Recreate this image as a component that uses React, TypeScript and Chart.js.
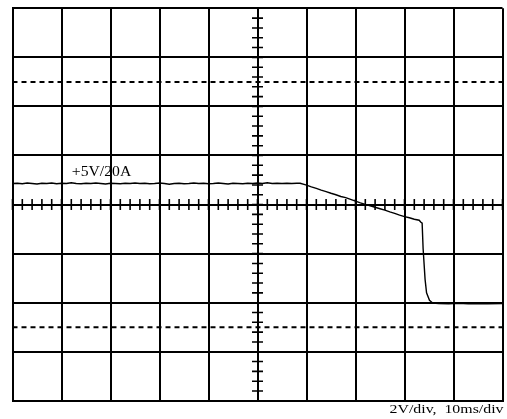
import { useEffect, useRef } from "react";
import { Chart, registerables } from "chart.js";

Chart.register(...registerables);

// time (ms) of each trace sample
const times = [
  -50, -49, -48, -47, -46, -45, -44, -43, -42, -41, -40, -39, -38, -37, -36, -35, -34, -33, -32, -31,
  -30, -29, -28, -27, -26, -25, -24, -23, -22, -21, -20, -19, -18, -17, -16, -15, -14, -13, -12, -11,
  -10, -9, -8, -7, -6, -5, -4, -3, -2, -1, 0, 1, 2, 3, 4, 5, 6, 7, 8, 8.7,
  9.5, 10, 11, 12, 13, 14, 15, 16, 17, 18, 19, 20, 21, 22, 23, 24, 25, 26, 27, 28, 29, 30, 31, 32, 33,
  33.3, 33.6, 33.8, 34.2, 34.5, 35.1, 35.8, 37, 39, 41, 43, 45, 47, 50,
];
// voltage (V) of each trace sample
const volts = [
  0.86, 0.87, 0.85, 0.88, 0.86, 0.84, 0.87, 0.86, 0.88, 0.85, 0.87, 0.86, 0.89, 0.86, 0.85, 0.87, 0.86, 0.88, 0.86, 0.84,
  0.87, 0.86, 0.85, 0.87, 0.86, 0.88, 0.86, 0.87, 0.85, 0.86, 0.88, 0.86, 0.83, 0.86, 0.87, 0.85, 0.86, 0.88, 0.86, 0.87,
  0.85, 0.86, 0.88, 0.86, 0.84, 0.87, 0.86, 0.85, 0.87, 0.86, 0.88, 0.86, 0.89, 0.86, 0.87, 0.86, 0.87, 0.86, 0.87, 0.87,
  0.82, 0.79, 0.72, 0.66, 0.59, 0.53, 0.46, 0.40, 0.33, 0.28, 0.21, 0.14, 0.07, 0.01, -0.05, -0.11, -0.17, -0.23, -0.30, -0.36, -0.43, -0.49, -0.54, -0.60, -0.64,
  -0.71, -0.76, -1.8, -3.05, -3.6, -3.9, -4.02, -4.04, -4.05, -4.03, -4.05, -4.04, -4.05, -4.04,
];
const dashedLevels = [5, -5];
const xRange = [-50, 50];
const yRange = [-8, 8];
const xStep = 10;
const yStep = 2;
const minorPerDiv = 5;
const traceLabel = "+5V/20A";
const traceLabelAt = [-37.9, 1.16];
const scaleCaption = "2V/div,  10ms/div";

const SERIF = "'Liberation Serif', 'Times New Roman', 'DejaVu Serif', serif";

function drawStretched(ctx: CanvasRenderingContext2D, text: string, x: number, y: number, width: number, align: "left" | "right") {
  const w = ctx.measureText(text).width;
  const s = width / w;
  ctx.save();
  ctx.translate(x, y);
  ctx.scale(s, 1);
  ctx.textAlign = align;
  ctx.textBaseline = "alphabetic";
  ctx.fillText(text, 0, 0);
  ctx.restore();
}

const scopePlugin = {
  id: "scope",
  afterDatasetsDraw(chart: any) {
    const { ctx, chartArea } = chart;
    const x = chart.scales.x;
    const y = chart.scales.y;
    const x0 = x.getPixelForValue(0);
    const y0 = y.getPixelForValue(0);
    ctx.save();
    ctx.strokeStyle = "#000";
    ctx.lineWidth = 1.6;
    ctx.beginPath();
    const xm = xStep / minorPerDiv;
    for (let v = xRange[0]; v <= xRange[1] + 1e-9; v += xm) {
      const px = x.getPixelForValue(v);
      ctx.moveTo(px, y0 - 5.5);
      ctx.lineTo(px, y0 + 5.5);
    }
    const ym = yStep / minorPerDiv;
    for (let v = yRange[0]; v <= yRange[1] + 1e-9; v += ym) {
      const py = y.getPixelForValue(v);
      ctx.moveTo(x0 - 5.5, py);
      ctx.lineTo(x0 + 5.5, py);
    }
    ctx.stroke();
    ctx.fillStyle = "#000";
    ctx.font = "14px " + SERIF;
    drawStretched(ctx, traceLabel, x.getPixelForValue(traceLabelAt[0]), y.getPixelForValue(traceLabelAt[1]), 59.5, "left");
    ctx.font = "13px " + SERIF;
    drawStretched(ctx, scaleCaption, chartArea.right + 1, chartArea.bottom + 11.7, 114, "right");
    ctx.restore();
  },
};

export default function App() {
  const ref = useRef<HTMLCanvasElement | null>(null);
  useEffect(() => {
    if (!ref.current) return;
    const chart = new Chart(ref.current, {
      type: "scatter",
      data: {
        datasets: [
          ...dashedLevels.map((lv) => ({
            data: [
              { x: xRange[0], y: lv },
              { x: xRange[1], y: lv },
            ],
            showLine: true,
            borderColor: "#000",
            borderWidth: 2,
            borderDash: [5, 4],
            pointRadius: 0,
          })),
          {
            data: times.map((t, i) => ({ x: t, y: volts[i] })),
            showLine: true,
            borderColor: "#000",
            borderWidth: 1.4,
            pointRadius: 0,
            tension: 0,
          },
        ],
      },
      options: {
        animation: false,
        responsive: false,
        devicePixelRatio: 1,
        layout: { padding: { left: 12.5, top: 8.3, right: 4.5, bottom: 18.2 } },
        plugins: { legend: { display: false }, tooltip: { enabled: false } },
        scales: {
          x: {
            type: "linear",
            min: xRange[0],
            max: xRange[1],
            ticks: { display: false, stepSize: xStep },
            grid: { color: "#000", lineWidth: 2, drawTicks: false },
            border: { display: true, color: "#000", width: 2 },
          },
          y: {
            type: "linear",
            min: yRange[0],
            max: yRange[1],
            ticks: { display: false, stepSize: yStep },
            grid: { color: "#000", lineWidth: 2, drawTicks: false },
            border: { display: true, color: "#000", width: 2 },
          },
        },
      },
      plugins: [scopePlugin],
    });
    return () => chart.destroy();
  }, []);
  return (
    <div style={{ position: "fixed", left: 0, top: 0, width: 507, height: 419, background: "#fff" }}>
      <canvas ref={ref} width={507} height={419} style={{ display: "block" }} />
    </div>
  );
}
